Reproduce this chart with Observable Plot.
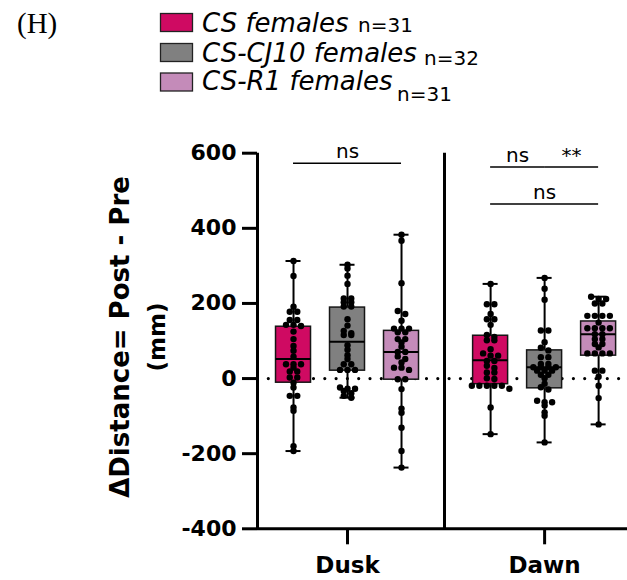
<!DOCTYPE html>
<html><head><meta charset="utf-8">
<script src="https://cdn.jsdelivr.net/npm/d3@7"></script>
<script src="https://cdn.jsdelivr.net/npm/@observablehq/plot@0.6"></script>
<style>
body{margin:0;background:#fff;}
#wrap{position:relative;width:627px;height:580px;overflow:hidden;background:#fff;}
#legend{display:block;}
#chart svg{display:block;}
</style></head><body>
<div id="wrap"><svg id="legend" width="627" height="118"></svg><div id="chart"></div></div>
<script>
// ---- data ----
const panelLabel = "(H)";
const times = ["Dusk", "Dawn"];
const groups = ["CS females", "CS-CJ10 females", "CS-R1 females"];
const groupN = ["n=31", "n=32", "n=31"];
const groupColors = ["#CF0A62", "#808080", "#C48BB9"];
const yTicks = [-400, -200, 0, 200, 400, 600];
const yTitle = ["ΔDistance= Post - Pre", "(mm)"];

const duskCS   = [313, 273, 191, 178, 178, 156, 156, 143, 143, 140, 125, 105, 87, 74, 58, 38, 38, 38, 29, 19, 19, 3, 3, -11, -24, -46, -46, -77, -86, -180, -193];
const duskCJ10 = [303, 293, 274, 252, 213, 213, 203, 203, 192, 192, 158, 141, 127, 121, 116, 116, 89, 77, 62, 52, 38, 38, 23, 23, 23, -24, -27, -27, -33, -39, -46, -51];
const duskR1   = [383, 367, 254, 180, 172, 154, 133, 133, 133, 123, 123, 105, 105, 96, 85, 71, 71, 59, 52, 43, 29, 29, 23, -2, -2, -28, -80, -91, -131, -193, -237];
const dawnCS   = [252, 198, 198, 172, 158, 158, 143, 116, 111, 102, 102, 78, 67, 61, 61, 47, 47, 34, 28, 16, 16, 1, -1, -19, -19, -19, -19, -19, -27, -77, -148];
const dawnCJ10 = [268, 239, 210, 128, 128, 97, 82, 75, 57, 57, 39, 39, 30, 30, 30, 30, 21, 21, 21, 10, 10, 1, -14, -23, -29, -59, -63, -63, -72, -90, -99, -170];
const dawnR1   = [218, 212, 212, 200, 200, 167, 167, 167, 167, 149, 134, 134, 134, 134, 118, 118, 105, 105, 92, 92, 83, 67, 67, 67, 67, 21, 21, 5, -19, -52, -122];

// box statistics (Dusk CS, CJ10, R1, Dawn CS, CJ10, R1)
const boxMin    = [-193, -51, -237, -148, -170, -122];
const boxQ1     = [-11, 21, -3, -15, -26, 61];
const boxMedian = [52, 98, 71, 49, 30, 118];
const boxQ3     = [138, 189, 127, 114, 75, 152];
const boxMax    = [313, 303, 383, 252, 268, 218];

const comparisons = [
  {time: 0, a: 0, b: 2, label: "ns", level: 573},
  {time: 1, a: 0, b: 1, label: "ns", level: 563},
  {time: 1, a: 1, b: 2, label: "**", level: 563},
  {time: 1, a: 0, b: 2, label: "ns", level: 465}
];

// ---- layout helpers ----
const groupGap = 3.65;
const slot = (t, g) => g + t * groupGap;
const xMin = -0.667, xMax = 6.185, xSep = 2.796;
const boxHalf = 0.324, capHalf = 0.139, dotStep = 0.139;

const series = [duskCS, duskCJ10, duskR1, dawnCS, dawnCJ10, dawnR1];
const boxes = series.map((vals, k) => {
  const t = Math.floor(k / 3), g = k % 3;
  return {time: times[t], group: groups[g], x: slot(t, g),
          min: boxMin[k], q1: boxQ1[k], med: boxMedian[k], q3: boxQ3[k], max: boxMax[k]};
});

// deterministic scatter arrangement: nearby values share a row, spread symmetrically
function swarm(values) {
  const sorted = values.slice().sort((a, b) => b - a);
  const rows = [];
  for (const v of sorted) {
    const row = rows[rows.length - 1];
    if (row && row[0] - v <= 8) row.push(v); else rows.push([v]);
  }
  const out = [];
  for (const row of rows) row.forEach((v, j) => out.push({value: v, off: j - (row.length - 1) / 2}));
  return out;
}
const points = series.flatMap((vals, k) => {
  const t = Math.floor(k / 3), g = k % 3;
  return swarm(vals).map(d => ({value: d.value, x: slot(t, g) + d.off * dotStep}));
});

const timeCenters = times.map((_, t) => slot(t, 1));

// ---- legend ----
const leg = d3.select("#legend");
leg.append("text").attr("x", 17).attr("y", 33).attr("font-family", "Liberation Serif")
  .attr("font-size", 29).text(panelLabel);
const rowsY = [13.5, 43.5, 73];
const textBase = [32, 62, 90];
const nX = [358, 424, 397];
const nBase = [32, 65, 101];
groups.forEach((g, i) => {
  leg.append("rect").attr("x", 160.5).attr("y", rowsY[i]).attr("width", 32).attr("height", 18)
    .attr("fill", groupColors[i]).attr("stroke", "#222").attr("stroke-width", 1.3);
  leg.append("text").attr("x", 202).attr("y", textBase[i]).attr("font-family", "DejaVu Sans")
    .attr("font-style", "italic").attr("font-size", 26).text(g);
  leg.append("text").attr("x", nX[i]).attr("y", nBase[i]).attr("font-family", "DejaVu Sans")
    .attr("font-size", 20).text(groupN[i]);
});

// ---- chart ----
const chart = Plot.plot({
  width: 627, height: 462,
  marginLeft: 257, marginRight: 0, marginTop: 34.7, marginBottom: 51.7,
  style: {fontFamily: "DejaVu Sans", color: "black", background: "white", overflow: "visible"},
  x: {type: "linear", domain: [xMin, xMax], axis: null},
  y: {domain: [-400, 600], axis: null},
  color: {domain: groups, range: groupColors},
  marks: [
    Plot.ruleY([0], {strokeDasharray: "0 11.3", strokeLinecap: "round", strokeWidth: 3.2}),
    Plot.ruleX(boxes, {x: "x", y1: "min", y2: "max", strokeWidth: 2}),
    Plot.ruleY(boxes, {x1: d => d.x - capHalf, x2: d => d.x + capHalf, y: "min", strokeWidth: 2}),
    Plot.ruleY(boxes, {x1: d => d.x - capHalf, x2: d => d.x + capHalf, y: "max", strokeWidth: 2}),
    Plot.rect(boxes, {x1: d => d.x - boxHalf, x2: d => d.x + boxHalf, y1: "q1", y2: "q3",
                      fill: "group", stroke: "#161616", strokeWidth: 1.5}),
    Plot.ruleY(boxes, {x1: d => d.x - boxHalf, x2: d => d.x + boxHalf, y: "med", strokeWidth: 2}),
    Plot.dot(points, {x: "x", y: "value", r: 3.2, fill: "black", stroke: "none"}),
    Plot.ruleX([xMin], {strokeWidth: 3}),
    Plot.ruleY([-400], {strokeWidth: 3}),
    Plot.ruleX([xSep], {strokeWidth: 3}),
    Plot.axisY({ticks: yTicks, tickFormat: d => String(d), tickSize: 15, tickPadding: 6,
                strokeWidth: 3, fontSize: 22, fontWeight: "bold", label: null}),
    Plot.axisX({ticks: timeCenters, tickFormat: d => times[timeCenters.indexOf(d)], tickSize: 16,
                tickPadding: 12, strokeWidth: 3, fontSize: 23, fontWeight: "bold", label: null}),
    Plot.ruleY(comparisons, {x1: d => slot(d.time, d.a), x2: d => slot(d.time, d.b), y: "level", strokeWidth: 1.5}),
    Plot.text(comparisons, {x: d => (slot(d.time, d.a) + slot(d.time, d.b)) / 2, y: "level",
                            text: "label", dy: -11.7, fontSize: 20}),
    Plot.text([yTitle[0]], {text: d => d, frameAnchor: "left", textAnchor: "middle", rotate: -90, dx: -137, dy: -4,
                            fontSize: 26, fontWeight: "bold"}),
    Plot.text([yTitle[1]], {text: d => d, frameAnchor: "left", textAnchor: "middle", rotate: -90, dx: -100, dy: -4,
                            fontSize: 23, fontWeight: "bold"})
  ]
});
document.getElementById("chart").appendChild(chart);
</script>
</body></html>
